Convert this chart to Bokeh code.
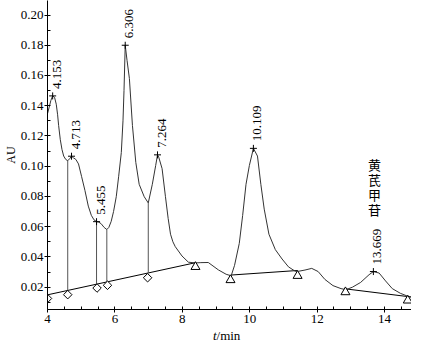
import numpy as np
from bokeh.plotting import figure
from bokeh.layouts import column
from bokeh.models import Range1d, ColumnDataSource, SingleIntervalTicker, NumeralTickFormatter
from bokeh.core.properties import value
from bokeh.embed import file_html
from bokeh.resources import INLINE

# chromatogram trace (t/min, AU)
time_min = [4.00, 4.05, 4.10, 4.153, 4.21, 4.26, 4.30, 4.33, 4.38, 4.43, 4.48, 4.54, 4.60, 4.66,
            4.713, 4.77, 4.84, 4.92, 5.01, 5.11, 5.21, 5.30, 5.38, 5.455, 5.52, 5.59, 5.68, 5.76,
            5.82, 5.89, 5.96, 6.04, 6.11, 6.19, 6.24, 6.27, 6.306, 6.36, 6.43, 6.52, 6.62, 6.72,
            6.87, 6.99, 7.11, 7.21, 7.264, 7.30, 7.40, 7.50, 7.58, 7.65, 7.72, 7.79, 7.99, 8.18,
            8.38, 8.55, 8.77, 9.07, 9.30, 9.45, 9.55, 9.69, 9.79, 9.89, 9.99, 10.109, 10.23, 10.33,
            10.43, 10.57, 10.76, 10.96, 11.15, 11.35, 11.45, 11.64, 11.84, 12.03, 12.23, 12.47,
            12.71, 12.86, 13.05, 13.29, 13.54, 13.669, 13.84, 14.03, 14.23, 14.47, 14.71, 14.96]
signal_au = [0.1347, 0.1390, 0.1435, 0.1465, 0.1455, 0.1410, 0.1340, 0.1270, 0.1175, 0.1110,
             0.1067, 0.1045, 0.1036, 0.1050, 0.1066, 0.1055, 0.1045, 0.1015, 0.0933, 0.0840,
             0.0736, 0.0675, 0.0645, 0.0633, 0.0630, 0.0620, 0.0595, 0.0581, 0.0595, 0.0635,
             0.0700, 0.0798, 0.0930, 0.1090, 0.1300, 0.1500, 0.1800, 0.1700, 0.1580, 0.1270,
             0.1025, 0.0880, 0.0798, 0.0757, 0.0880, 0.1005, 0.1075, 0.1060, 0.0984, 0.0798,
             0.0654, 0.0550, 0.0500, 0.0468, 0.0406, 0.0365, 0.0360, 0.0362, 0.0363, 0.0314,
             0.0285, 0.0275, 0.0344, 0.0489, 0.0674, 0.0880, 0.1005, 0.1118, 0.1067, 0.0880,
             0.0716, 0.0550, 0.0448, 0.0386, 0.0334, 0.0305, 0.0305, 0.0313, 0.0324, 0.0303,
             0.0251, 0.0210, 0.0190, 0.0183, 0.0200, 0.0231, 0.0282, 0.0303, 0.0293, 0.0241,
             0.0190, 0.0159, 0.0138, 0.0128]

# integration baselines
base1_t = [4.00, 8.40]
base1_au = [0.0149, 0.0362]
base2_t = [9.45, 11.42]
base2_au = [0.0280, 0.0310]
base3_t = [12.86, 14.96]
base3_au = [0.0188, 0.0130]

# peak-split drop lines
drop_t = [4.60, 5.455, 5.76, 6.99]

# labelled peaks
peak_t = [4.153, 4.713, 5.455, 6.306, 7.264, 10.109, 13.669]
peak_au = [0.1465, 0.1066, 0.0633, 0.1800, 0.1075, 0.1118, 0.0303]
peak_text = ["4.153", "4.713", "5.455", "6.306", "7.264", "10.109", "13.669"]

# baseline event markers
diamond_t = [4.00, 4.60, 5.47, 5.78, 6.97]
diamond_au = [0.0125, 0.0150, 0.0194, 0.0212, 0.0262]
triangle_t = [8.39, 9.43, 11.42, 12.84, 14.69]
triangle_au = [0.0334, 0.0247, 0.0275, 0.0167, 0.0112]

compound_chars = ["黄", "芪", "甲", "苷"]

SERIF = "Liberation Serif"

p = figure(width=411, height=325, x_range=Range1d(4, 14.8), y_range=Range1d(0.0052, 0.2096),
           output_backend="svg", toolbar_location=None, title=None,
           min_border_left=47, min_border_right=0, min_border_top=0, min_border_bottom=0)
p.outline_line_color = None
p.xgrid.visible = False
p.ygrid.visible = False
p.background_fill_color = "white"

for ax in (p.xaxis[0], p.yaxis[0]):
    ax.axis_line_color = "black"
    ax.major_tick_line_color = "black"
    ax.minor_tick_line_color = "black"
    ax.major_tick_out = 3
    ax.major_tick_in = 0
    ax.minor_tick_out = 0
    ax.minor_tick_in = 3
    ax.major_label_text_font = SERIF
    ax.major_label_text_font_size = "13px"
    ax.major_label_text_color = "black"

p.xaxis.ticker = SingleIntervalTicker(interval=2, num_minor_ticks=4)
p.yaxis.ticker = SingleIntervalTicker(interval=0.02, num_minor_ticks=2)
p.yaxis.formatter = NumeralTickFormatter(format="0.00")
p.xaxis.major_label_standoff = 2
p.yaxis.major_label_standoff = 1
p.yaxis.axis_label = "AU"
p.yaxis.axis_label_standoff = 0
p.yaxis.axis_label_text_font = SERIF
p.yaxis.axis_label_text_font_size = "12px"
p.yaxis.axis_label_text_font_style = "normal"
p.yaxis.axis_label_text_color = "black"

# baselines
for bt, ba in ((base1_t, base1_au), (base2_t, base2_au), (base3_t, base3_au)):
    p.line(bt, ba, line_color="black", line_width=1)

# drop lines from baseline to trace
drop_bottom = list(np.interp(drop_t, base1_t, base1_au))
drop_top = list(np.interp(drop_t, time_min, signal_au))
p.segment(x0=drop_t, y0=drop_bottom, x1=drop_t, y1=drop_top, line_color="#555555", line_width=1)

# trace
p.line(time_min, signal_au, line_color="#333333", line_width=1)

# markers
p.scatter(diamond_t, diamond_au, marker="square", angle=np.pi / 4, size=6,
          line_color="black", fill_color="white", line_width=1)
p.scatter(triangle_t, triangle_au, marker="triangle", size=9,
          line_color="black", fill_color="white", line_width=1)

# peak ticks and labels
psrc = ColumnDataSource(dict(t=peak_t, au=peak_au, label=peak_text))
p.scatter("t", "au", source=psrc, marker="cross", size=7, line_color="black", line_width=1)
p.text("t", "au", text="label", source=psrc, angle=np.pi / 2, x_offset=4, y_offset=-7,
       text_align="left", text_baseline="middle", text_font=value(SERIF),
       text_font_size="13px", text_color="black")

# compound name, vertical
csrc = ColumnDataSource(dict(x=[13.70] * 4, y=[0.1010] * 4, ch=compound_chars,
                             dy=[0, 15, 30, 45]))
p.text("x", "y", text="ch", source=csrc, y_offset="dy", text_align="center",
       text_baseline="middle", text_font=value("Noto Sans CJK SC"), text_font_size="13px",
       text_color="black")

# x-axis title strip ("t" italic, "/min" upright)
q = figure(width=411, height=19, x_range=p.x_range, y_range=Range1d(0, 19),
           output_backend="svg", toolbar_location=None, title=None,
           x_axis_location=None, y_axis_location=None,
           min_border_left=47, min_border_right=0, min_border_top=0, min_border_bottom=0)
q.outline_line_color = None
q.grid.visible = False
q.text(x=[9.015], y=[9.5], text=["t"], text_align="right", text_baseline="middle",
       text_font=value(SERIF), text_font_size="13px", text_font_style="italic", text_color="black")
q.text(x=[9.015], y=[9.5], text=["/min"], text_align="left", text_baseline="middle",
       text_font=value(SERIF), text_font_size="13px", text_color="black")

layout = column(p, q, spacing=0)
open("out.html", "w").write(file_html(layout, INLINE))
